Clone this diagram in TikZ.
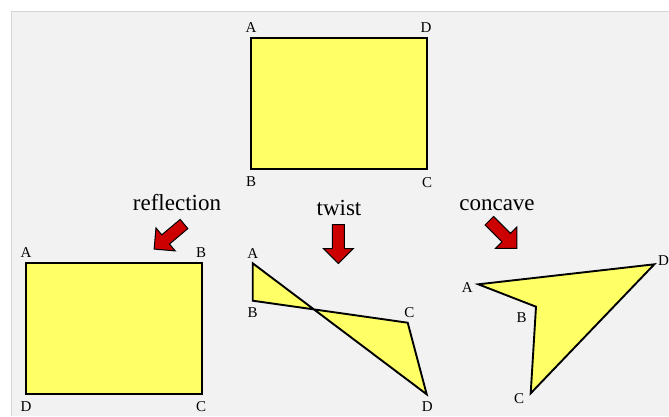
\documentclass[tikz,border=0pt]{standalone}
\usepackage{fontspec}
\setmainfont{Liberation Serif}

\definecolor{quadfill}{HTML}{FFFF66}
\definecolor{arrowred}{HTML}{CC0000}
\definecolor{panelgray}{HTML}{F2F2F2}
\definecolor{panelline}{HTML}{D6D6D6}

\tikzset{
  quad/.style={draw=black, line width=1.9pt, fill=quadfill, line join=miter},
  vlabel/.style={anchor=base, inner sep=0pt, font=\fontsize{15}{15}\selectfont},
  caption/.style={anchor=base, inner sep=0pt, font=\fontsize{23}{23}\selectfont},
  blockarrow/.style={draw=black, line width=1pt, fill=arrowred, line join=miter}
}

% block arrow: tail point, direction
\newcommand{\redarrow}[2]{%
  \draw[blockarrow, shift={#1}, rotate=#2]
    (0,6) -- (24,6) -- (24,15) -- (39,0) -- (24,-15) -- (24,-6) -- (0,-6) -- cycle;}

\begin{document}
\begin{tikzpicture}[x=1pt, y=-1pt]
            \useasboundingbox (0,0) rectangle (669,416);
            \fill[panelgray] (11,11) rectangle (669,416);
            \draw[panelline, line width=1pt] (11,416) -- (11,11) -- (669,11);

            % Original quadrilateral
            \begin{scope}
                \coordinate (oA) at (250.7,38);
                \coordinate (oD) at (426.7,38);
                \coordinate (oC) at (426.7,169);
                \coordinate (oB) at (250.7,169);
                \draw[quad] (oA) -- (oB) -- (oC) -- (oD) -- cycle;
                \node[vlabel] (loA) at (251,32) {A};
                \node[vlabel] (loD) at (426,32) {D};
                \node[vlabel] (loB) at (251,186.5) {B};
                \node[vlabel] (loC) at (427,187) {C};
            \end{scope}

            % Reflection
            \begin{scope}
                \node[caption] (reflection) at (177,210.5) {reflection};
                \redarrow{(184,224)}{-140}
                \coordinate (rA) at (25.7,263.3);
                \coordinate (rB) at (202,263.3);
                \coordinate (rC) at (202,394.3);
                \coordinate (rD) at (25.7,394.3);
                \draw[quad] (rA) -- (rB) -- (rC) -- (rD) -- cycle;
                \node[vlabel] (lrA) at (26,257.5) {A};
                \node[vlabel] (lrB) at (201,257.5) {B};
                \node[vlabel] (lrD) at (26,411.7) {D};
                \node[vlabel] (lrC) at (201,411.7) {C};
            \end{scope}

            % Twist
            \begin{scope}
                \node[caption] (twist) at (339,215) {twist};
                \redarrow{(338.3,224.5)}{-90}
                \coordinate (tA) at (252.7,263.3);
                \coordinate (tB) at (252.7,300.7);
                \coordinate (tC) at (407.7,322.7);
                \coordinate (tD) at (426.7,394.3);
                \draw[quad] (tA) -- (tB) -- (tC) -- (tD) -- cycle;
                \node[vlabel] (ltA) at (252.7,258) {A};
                \node[vlabel] (ltB) at (252.7,317.3) {B};
                \node[vlabel] (ltC) at (409.3,317) {C};
                \node[vlabel] (ltD) at (427.3,411.7) {D};
            \end{scope}

            % Concave
            \begin{scope}
                \node[caption] (concave) at (497,210) {concave};
                \redarrow{(489.3,220.7)}{-45}
                \coordinate (cA) at (478.3,284.3);
                \coordinate (cB) at (536,306.7);
                \coordinate (cC) at (530.7,393.3);
                \coordinate (cD) at (654.3,264.3);
                \draw[quad] (cA) -- (cB) -- (cC) -- (cD) -- cycle;
                \node[vlabel] (lcA) at (467.3,292) {A};
                \node[vlabel] (lcB) at (521.7,322) {B};
                \node[vlabel] (lcC) at (519,403) {C};
                \node[vlabel] (lcD) at (663.5,265) {D};
            \end{scope}
        \end{tikzpicture}
\end{document}
